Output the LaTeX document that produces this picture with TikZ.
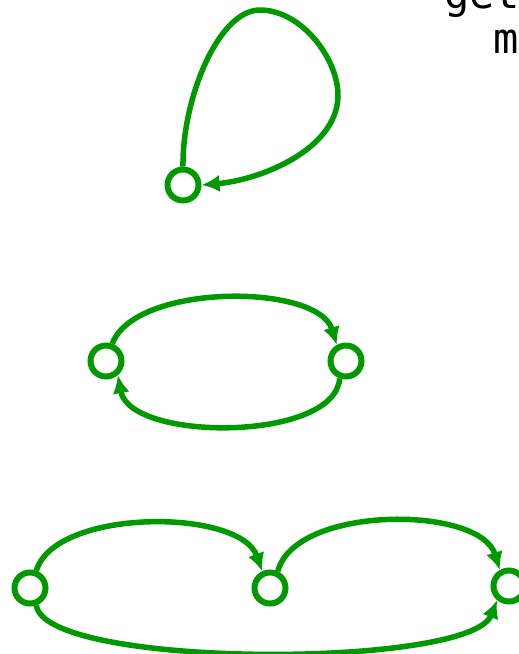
\documentclass[tikz,border=0pt]{standalone}
\usepackage{fontspec}
\setmonofont{DejaVu Sans Mono}
\usetikzlibrary{arrows.meta}
\definecolor{gr}{RGB}{0,153,0}
\begin{document}
\begin{tikzpicture}[x=1pt,y=-1pt,
  st/.style={circle,draw=gr,line width=6pt,minimum size=31pt,inner sep=0pt},
  ed/.style={draw=gr,line width=5.5pt,-{Latex[length=18pt,width=17pt]}},
  lbl/.style={font=\ttfamily\fontsize{42}{45}\selectfont,inner sep=0pt,anchor=base west}]
\useasboundingbox (0,0) rectangle (519,654);
\node[lbl] (t1) at (444,8) {get};
\node[lbl] (t2) at (493,53) {m};
\node[st] (a) at (183,185) {};
\node[st] (b1) at (106,361) {};
\node[st] (b2) at (346,361) {};
\node[st] (c1) at (30,588) {};
\node[st] (c2) at (270,588) {};
\node[st] (c3) at (509,586) {};
\path[ed] (a.north) .. controls (182,100) and (218,10) .. (260,10)
  .. controls (302,10) and (339,60) .. (338,97)
  .. controls (336,150) and (260,180) .. (a.east);
\path[ed] (b1.70) .. controls (135,283) and (318,283) .. (b2.120);
\path[ed] (b2.-110) .. controls (335,442) and (130,442) .. (b1.-50);
\path[ed] (c1.70) .. controls (55,508) and (240,508) .. (c2.115);
\path[ed] (c2.65) .. controls (295,505) and (480,505) .. (c3.120);
\path[ed] (c1.-70) .. controls (45,669) and (470,669) .. (c3.-130);
\end{tikzpicture}
\end{document}
